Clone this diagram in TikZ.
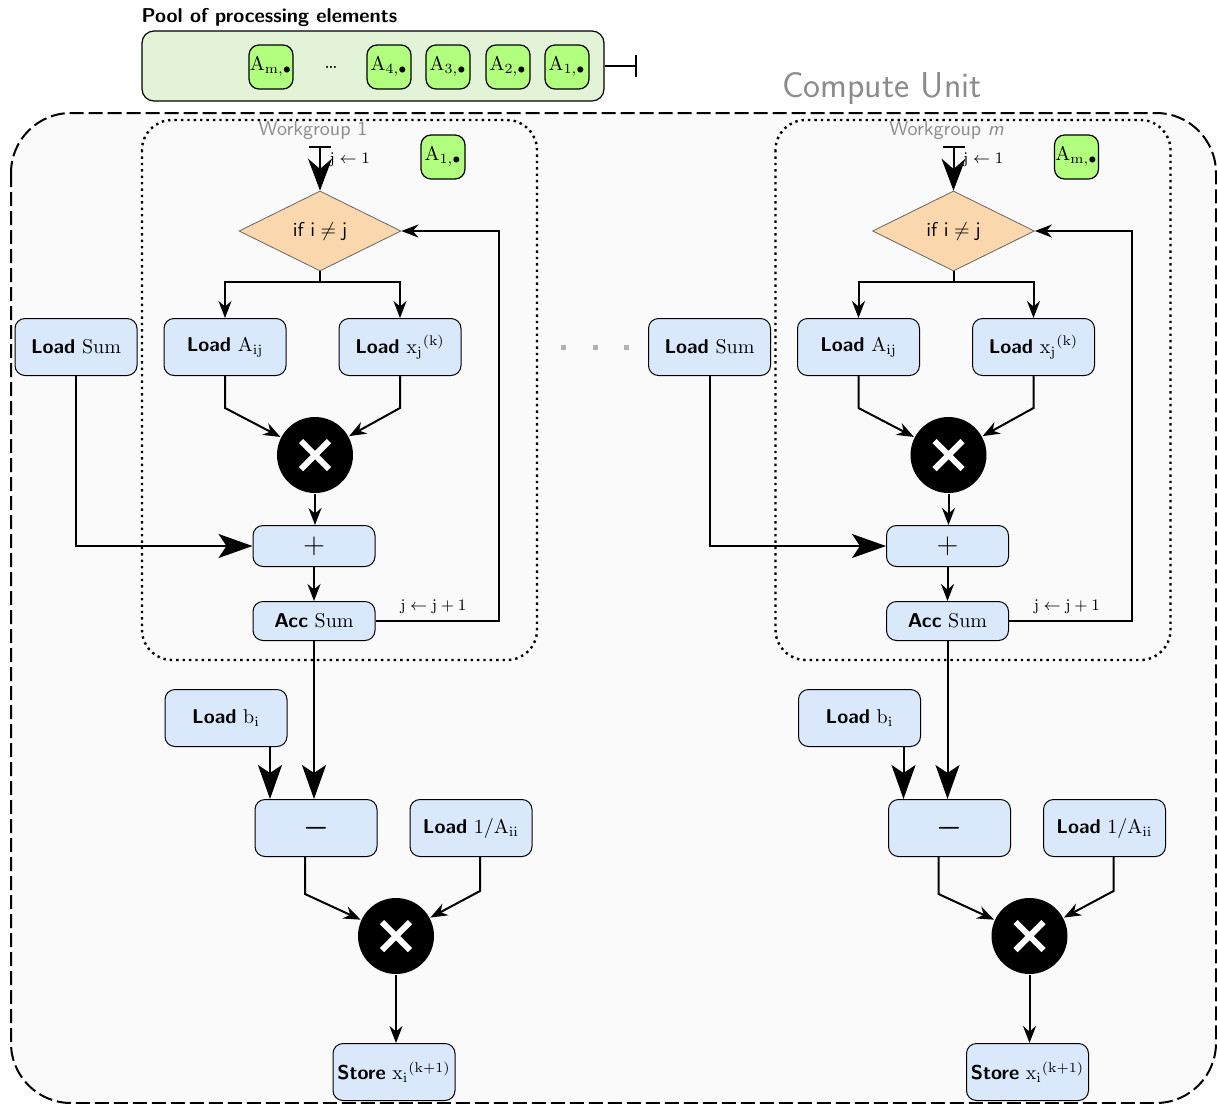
\documentclass[tikz,border=0pt]{standalone}
\usepackage{amsmath}
\usetikzlibrary{shapes.geometric,arrows.meta,positioning}

\definecolor{cufill}{HTML}{FAFAFA}
\definecolor{poolfill}{HTML}{E2F3D8}
\definecolor{pefill}{HTML}{B2FF80}
\definecolor{opfill}{HTML}{DAE8FC}
\definecolor{condfill}{HTML}{FAD7AC}
\newcommand{\kw}[1]{\textsf{\bfseries #1}}

\begin{document}
\begin{tikzpicture}[x=0.5pt,y=-0.5pt,line width=1pt]
\tikzstyle{op}=[draw, line width=0.5pt, rounded corners=5pt, fill=opfill,
  minimum width=61pt, minimum height=28.5pt, inner sep=1pt]
\tikzstyle{pe}=[draw, line width=0.6pt, rounded corners=5pt, fill=pefill,
  minimum size=22pt, inner sep=0pt]
\tikzstyle{cond}=[diamond, draw=black!60, line width=0.4pt, fill=condfill,
  minimum width=81pt, minimum height=40pt, inner sep=0pt, font=\sffamily]
\tikzstyle{mul}=[circle, fill=black, minimum size=38pt, inner sep=0pt,
  path picture={
    \draw[white, line width=3pt] (path picture bounding box.center)
      ++(-7pt,-7pt) -- ++(14pt,14pt) ++(-14pt,0pt) -- ++(14pt,-14pt);}]
\tikzstyle{arr}=[-{Stealth[length=8.5pt,width=6.5pt]}]
\tikzstyle{bigarr}=[-{Stealth[length=17pt,width=12pt,inset=4pt]}]
\tikzstyle{grey}=[text=black!45, font=\sffamily]
\useasboundingbox (0,0) rectangle (1217,1104);

% compute unit
\draw[dash pattern=on 7pt off 2.5pt, fill=cufill, rounded corners=30pt]
  (11,113) rectangle (1216,1103);
\node[grey, font=\sffamily\fontsize{18}{20}\selectfont] (cu) at (882,88) {Compute Unit};

% pool of processing elements
\node[anchor=west, font=\sffamily\bfseries] (pooltitle) at (134,18) {Pool of processing elements};
\node[draw, line width=0.6pt, rounded corners=6pt, fill=poolfill,
  minimum width=231pt, minimum height=35pt] (pool) at (373,66) {};
\node[pe] (pm) at (271,67) {$\mathrm{A}_{\mathrm{m},\bullet}$};
\node (pdots) at (331,67) {\dots};
\node[pe] (p4) at (389,67) {$\mathrm{A}_{4,\bullet}$};
\node[pe] (p3) at (448,67) {$\mathrm{A}_{3,\bullet}$};
\node[pe] (p2) at (508,67) {$\mathrm{A}_{2,\bullet}$};
\node[pe] (p1) at (567,67) {$\mathrm{A}_{1,\bullet}$};
\draw[-{Bar[width=11pt]}] (pool.east) -- ++(32,0);

% gap between workgroups
\foreach \x in {563,595,626}
  \fill[black!30] (\x-2.5,344.5) rectangle ++(5,5);

\foreach \wg/\dx/\wgname in {1/0pt/1, m/316.75pt/\textit{m}} {
\begin{scope}[xshift=\dx]
\draw[dotted, line width=1.2pt, rounded corners=15pt] (142,120) rectangle (537,660);
\node[grey] (wg\wg) at (313,131) {Workgroup \wgname};
\coordinate (start\wg) at (320,146);
\coordinate (split\wg) at (320,282);
\node[pe] (pe\wg) at (443,157) {$\mathrm{A}_{\mathrm{\wg},\bullet}$};
\node[cond] (cond\wg) at (320,231) {if $\mathsf{i}\neq\mathsf{j}$};
\node[op] (lsum\wg) at (76,347) {\kw{Load} Sum};
\node[op] (la\wg) at (225,347) {\kw{Load} $\mathrm{A_{ij}}$};
\node[op] (lx\wg) at (400,347) {\kw{Load} $\mathrm{x_j}^{\mathrm{(k)}}$};
\node[mul] (mula\wg) at (315,455) {};
\node[op, minimum height=20.5pt] (plus\wg) at (314,546) {\Large $+$};
\node[op, minimum height=19.5pt] (acc\wg) at (314,621) {\kw{Acc} Sum};
\node[op] (lb\wg) at (226,718) {\kw{Load} $\mathrm{b_i}$};
\node[op] (minus\wg) at (316,828) {\Large $\boldsymbol{-}$};
\node[op] (linv\wg) at (471,828) {\kw{Load} $\mathrm{1/A_{ii}}$};
\node[mul] (mulb\wg) at (396,936) {};
\node[op] (store\wg) at (394,1072) {\kw{Store} $\mathrm{x_i}^{\mathrm{(k+1)}}$};

% inner loop
\draw[{Bar[width=11pt]}-{Stealth[length=16pt,width=12pt]}] (start\wg) -- (cond\wg.north)
  node[pos=0.3, right=1pt, font=\footnotesize] {$\mathrm{j}\leftarrow 1$};
\draw (cond\wg.south) -- (split\wg);
\draw[arr] (split\wg) -| (la\wg);
\draw[arr] (split\wg) -| (lx\wg);
\draw[arr] (la\wg.south) -- ++(0,32) -- (mula\wg);
\draw[arr] (lx\wg.south) -- ++(0,32) -- (mula\wg);
\draw[arr] (mula\wg) -- (mula\wg |- plus\wg.north);
\draw[bigarr] (lsum\wg.south) |- (plus\wg.west);
\draw[arr] (plus\wg) -- (acc\wg);
\draw[arr] (acc\wg.east) -- ++(123,0)
  node[above, pos=0.47, font=\footnotesize] {$\mathrm{j}\leftarrow\mathrm{j}+1$}
  |- (cond\wg.east);

% update
\draw[bigarr] (acc\wg.south) -- (acc\wg.south |- minus\wg.north);
\draw[bigarr] ([xshift=22pt]lb\wg.south) -- ([xshift=22pt]lb\wg.south |- minus\wg.north);
\draw[arr] ([xshift=-5.5pt]minus\wg.south) -- ++(0,37) -- (mulb\wg);
\draw[arr] ([xshift=4.5pt]linv\wg.south) -- ++(0,34) -- (mulb\wg);
\draw[arr] (mulb\wg) -- (mulb\wg |- store\wg.north);
\end{scope}
}
\end{tikzpicture}
\end{document}
